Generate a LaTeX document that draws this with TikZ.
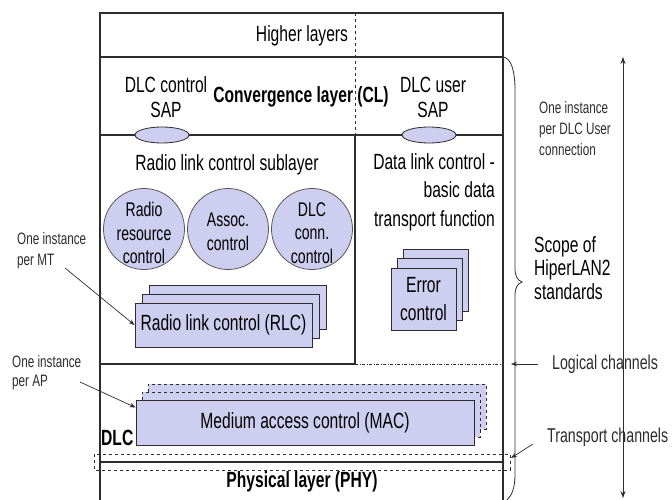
\documentclass[tikz,border=0pt]{standalone}
\usepackage{fontspec}
\setmainfont{Liberation Sans}[FakeStretch=0.71]
\usetikzlibrary{shapes.geometric,arrows.meta,calc}
\definecolor{lav}{RGB}{206,206,240}
\definecolor{ln}{RGB}{45,45,45}
\begin{document}
\begin{tikzpicture}[x=1pt,y=-1pt,
  frame/.style={draw=ln,line width=1.1pt},
  txt/.style={inner sep=0pt,align=center,font=\fontsize{22}{25}\selectfont},
  btxt/.style={inner sep=0pt,align=center,font=\fontsize{22}{25}\selectfont\bfseries},
  small/.style={inner sep=0pt,align=left,text=ln,font=\fontsize{16.5}{21}\selectfont},
  chan/.style={inner sep=0pt,align=left,text=ln,font=\fontsize{20}{22}\selectfont},
  circ/.style={circle,draw=ln!80,fill=lav,line width=0.8pt,minimum size=81pt,inner sep=0pt},
  ctext/.style={inner sep=0pt,align=center,font=\fontsize{19.8}{23.5}\selectfont},
  sap/.style={ellipse,draw=ln,fill=lav,line width=0.8pt,minimum width=54pt,minimum height=16pt,inner sep=0pt},
  card/.style={rectangle,draw=ln,fill=lav,line width=0.9pt,inner sep=0pt},
  dcard/.style={card,dashed},
  arr/.style={-{Stealth[length=6pt,width=4.5pt]},draw=ln,line width=0.7pt}
]
\useasboundingbox (0,0) rectangle (672,500);

% frame
\draw[frame] (100,500) -- (100,13) -- (503,13) -- (503,500);
\draw[frame] (100,57) -- (503,57);
\draw[frame] (100,135) -- (503,135);
\draw[frame] (355,135) -- (355,364) -- (100,364);
\draw[draw=ln,line width=0.8pt,dashed] (355,13) -- (355,135);
\draw[draw=ln,line width=0.9pt,dash pattern=on 3pt off 1.5pt on 1pt off 1.5pt] (355,364) -- (503,364);
\draw[frame] (100,462) -- (503,462);
\draw[draw=ln,line width=0.8pt,dashed] (94,454) rectangle (510,470);

% texts upper
\node[txt] (higher) at (302,36) {Higher layers};
\node[txt] (dlcc) at (166,97) {DLC control\\SAP};
\node[btxt] (cl) at (301,97) {Convergence layer (CL)};
\node[txt] (dlcu) at (433,97) {DLC user\\SAP};
\node[sap] (sapc) at (162,135) {};
\node[sap] (sapu) at (429,135) {};

% RLC sublayer
\node[txt] (rlcsub) at (227,165) {Radio link control sublayer};
\node[circ] (rrc) at (144,229) {};
\node[circ] (ac) at (228,229) {};
\node[circ] (dcc) at (312,229) {};
\node[ctext] (rrct) at (144,233) {Radio\\resource\\control};
\node[ctext] (act) at (228,232) {Assoc.\\control};
\node[ctext] (dcct) at (312,233) {DLC\\conn.\\control};
\node[card,minimum width=177pt,minimum height=44pt] (rlc3) at (237.5,307) {};
\node[card,minimum width=177pt,minimum height=44pt] (rlc2) at (230.5,316) {};
\node[card,minimum width=177pt,minimum height=44pt,txt] (rlc1) at (223.5,325) {Radio link control (RLC)};

% DLC basic
\node[inner sep=0pt,align=right,anchor=east,font=\fontsize{22}{28.5}\selectfont] (dlcbasic) at (495,192) {Data link control -\\basic data\\transport function};
\node[card,minimum width=65pt,minimum height=62pt] (ec3) at (435.5,280) {};
\node[card,minimum width=65pt,minimum height=62pt] (ec2) at (429.5,289.5) {};
\node[card,minimum width=65pt,minimum height=62pt,txt,font=\fontsize{22}{28}\selectfont] (ec1) at (423.5,299) {Error\\control};

% MAC
\node[btxt,anchor=west] (dlc) at (101,438) {DLC};
\node[dcard,minimum width=338pt,minimum height=45pt] (mac3) at (317,406.5) {};
\node[dcard,minimum width=338pt,minimum height=45pt] (mac2) at (311,414.5) {};
\node[card,minimum width=338pt,minimum height=45pt,txt] (mac1) at (305,422.5) {Medium access control (MAC)};

\node[btxt] (phy) at (302,482) {Physical layer (PHY)};

% left labels
\node[small,anchor=west] (mt) at (17,251) {One instance\\per MT};
\coordinate (mts) at (65,268);
\draw[arr] (mts) -- (rlc1.west);
\node[small,anchor=west,font=\fontsize{16.5}{19}\selectfont] (ap) at (12,373) {One instance\\per AP};
\coordinate (aps) at (80,382);
\draw[arr] (aps) -- ([yshift=15pt]mac1.west);

% right side
\draw[draw=ln,line width=0.8pt] (503,57) .. controls (511,58) and (515,70) .. (515,90) -- (515,268)
  .. controls (515,276) and (517,280) .. (522,282) .. controls (517,284) and (515,288) .. (515,296)
  -- (515,474) .. controls (515,488) and (512,495) .. (507,500);
\node[small,anchor=west] (dlcuser) at (539,129) {One instance\\per DLC User\\connection};
\node[inner sep=0pt,align=left,anchor=west,font=\fontsize{22}{23.5}\selectfont] (scope) at (534,268) {Scope of\\HiperLAN2\\standards};
\node[chan,anchor=west] (logl) at (552,364) {Logical channels};
\coordinate (logs) at (538,364);
\coordinate (logt) at (511,364);
\draw[arr] (logs) -- (logt);
\node[chan,anchor=west] (trl) at (547,437) {Transport channels};
\coordinate (trs) at (533,444);
\coordinate (trt) at (511,458);
\draw[arr] (trs) -- (trt);
\coordinate (vt) at (623,57);
\coordinate (vb) at (623,498);
\draw[{Stealth[length=7pt,width=5pt]}-{Stealth[length=7pt,width=5pt]},draw=ln,line width=0.8pt] (vt) -- (vb);
\end{tikzpicture}
\end{document}
